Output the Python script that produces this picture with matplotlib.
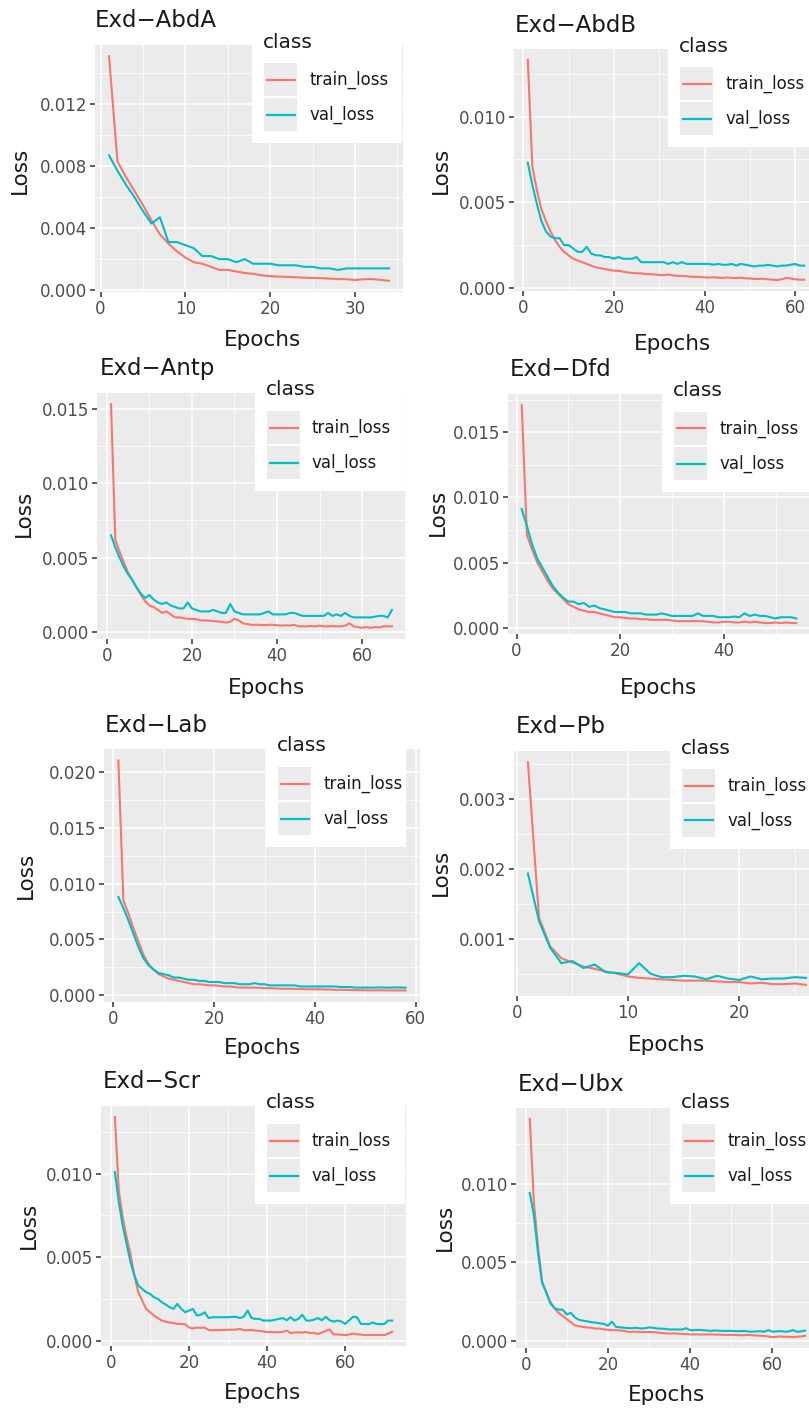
import numpy as np
import matplotlib
matplotlib.use("Agg")
import matplotlib.pyplot as plt
from matplotlib.patches import Rectangle
from matplotlib.lines import Line2D
from matplotlib.ticker import MultipleLocator, FormatStrFormatter

plt.rcParams["font.family"] = ["DejaVu Sans"]

# ------------------------------------------------------------
# Data (per-epoch losses)
# ------------------------------------------------------------
abda_train = [0.0151, 0.0083, 0.0073, 0.0064, 0.0055, 0.0045, 0.0036, 0.0030, 0.0025, 0.0021,
              0.0018, 0.0017, 0.0015, 0.0013, 0.0013, 0.0012, 0.0011, 0.00105, 0.00095, 0.0009,
              0.00087, 0.00085, 0.00083, 0.0008, 0.00078, 0.00077, 0.00074, 0.00071, 0.0007, 0.00065,
              0.0007, 0.00071, 0.00066, 0.0006]
abda_val = [0.0087, 0.0077, 0.0068, 0.0060, 0.0051, 0.0043, 0.0047, 0.0031, 0.0031, 0.0029,
            0.0027, 0.0022, 0.0022, 0.0020, 0.0020, 0.0018, 0.0020, 0.0017, 0.0017, 0.0017,
            0.0016, 0.0016, 0.0016, 0.0015, 0.0015, 0.0014, 0.0014, 0.0013, 0.0014, 0.0014,
            0.0014, 0.0014, 0.0014, 0.0014]

abdb_train = [0.0133, 0.0071, 0.0057, 0.0046, 0.0039, 0.0033, 0.0028, 0.0024, 0.0021, 0.0019,
              0.0017, 0.0016, 0.0015, 0.0014, 0.0013, 0.0012, 0.00115, 0.0011, 0.00105, 0.0010,
              0.0010, 0.00095, 0.0009, 0.00088, 0.00085, 0.00085, 0.0008, 0.0008, 0.00078, 0.00075,
              0.00075, 0.00078, 0.00073, 0.0007, 0.0007, 0.00068, 0.00065, 0.00065, 0.00063, 0.00062,
              0.0006, 0.00062, 0.0006, 0.00058, 0.00061, 0.00058, 0.00057, 0.0006, 0.00056, 0.00055,
              0.00052, 0.00052, 0.00053, 0.0005, 0.00048, 0.00046, 0.0005, 0.00058, 0.00055, 0.0005,
              0.00048, 0.00048]
abdb_val = [0.0073, 0.0060, 0.0049, 0.0039, 0.0033, 0.0030, 0.0029, 0.0029, 0.0025, 0.0025,
            0.0023, 0.0021, 0.0021, 0.0024, 0.0020, 0.0019, 0.0019, 0.0018, 0.0018, 0.0017,
            0.0018, 0.0017, 0.0017, 0.0017, 0.0018, 0.0015, 0.0015, 0.0015, 0.0015, 0.0015,
            0.0015, 0.0014, 0.0015, 0.0014, 0.0015, 0.0014, 0.0014, 0.0014, 0.0014, 0.0014,
            0.0014, 0.00135, 0.0014, 0.00135, 0.00135, 0.0014, 0.0013, 0.0014, 0.00135, 0.0013,
            0.00125, 0.0013, 0.0013, 0.00135, 0.0013, 0.00125, 0.0013, 0.0013, 0.00135, 0.0014,
            0.0013, 0.0013]

antp_train = [0.0153, 0.0062, 0.0054, 0.0047, 0.0040, 0.0035, 0.0030, 0.0025, 0.0021, 0.0018,
              0.0017, 0.0015, 0.0013, 0.0014, 0.0012, 0.0010, 0.0010, 0.00095, 0.0009, 0.0009,
              0.00088, 0.0008, 0.0008, 0.00078, 0.00075, 0.00072, 0.0007, 0.00065, 0.0007, 0.0009,
              0.0008, 0.0006, 0.00055, 0.0005, 0.0005, 0.0005, 0.00048, 0.0005, 0.0005, 0.00047,
              0.00045, 0.00047, 0.00045, 0.0005, 0.0004, 0.0004, 0.0004, 0.00042, 0.0004, 0.00045,
              0.0004, 0.0004, 0.00042, 0.0004, 0.0004, 0.00045, 0.0006, 0.0004, 0.00035, 0.0003,
              0.00035, 0.0003, 0.00035, 0.00033, 0.0004, 0.0004, 0.0004]
antp_val = [0.0065, 0.0057, 0.0050, 0.0044, 0.0039, 0.0035, 0.0030, 0.0026, 0.0023, 0.0025,
            0.0022, 0.0020, 0.0019, 0.0020, 0.0018, 0.0017, 0.0016, 0.0016, 0.0020, 0.0016,
            0.0015, 0.0014, 0.0014, 0.0014, 0.0015, 0.0014, 0.0013, 0.0013, 0.0019, 0.0014,
            0.0013, 0.0012, 0.0012, 0.0012, 0.0012, 0.0012, 0.0013, 0.0014, 0.0012, 0.0012,
            0.0012, 0.0012, 0.0013, 0.0013, 0.0012, 0.0011, 0.0011, 0.0011, 0.0011, 0.0011,
            0.0011, 0.0013, 0.0011, 0.0012, 0.0011, 0.0013, 0.0011, 0.0010, 0.0010, 0.0010,
            0.0010, 0.0010, 0.00105, 0.0011, 0.0011, 0.0010, 0.0015]

dfd_train = [0.0171, 0.0071, 0.0060, 0.0050, 0.0043, 0.0036, 0.0030, 0.0026, 0.0022, 0.0018,
             0.0016, 0.0014, 0.0013, 0.0012, 0.0012, 0.0011, 0.0010, 0.0009, 0.0008, 0.0008,
             0.00075, 0.0007, 0.0007, 0.00065, 0.00065, 0.0006, 0.0006, 0.0006, 0.0006, 0.00055,
             0.0005, 0.0005, 0.0005, 0.0005, 0.0005, 0.0005, 0.00045, 0.0004, 0.0004, 0.00045,
             0.00045, 0.0004, 0.0004, 0.00045, 0.0004, 0.00045, 0.0004, 0.00035, 0.00035, 0.0004,
             0.00035, 0.0004, 0.00035, 0.00035]
dfd_val = [0.0091, 0.0078, 0.0064, 0.0053, 0.0046, 0.0039, 0.0032, 0.0027, 0.0023, 0.0020,
           0.0020, 0.0018, 0.0019, 0.0016, 0.0017, 0.0015, 0.0014, 0.0013, 0.0012, 0.0012,
           0.0012, 0.0011, 0.0011, 0.0011, 0.0010, 0.0010, 0.0010, 0.0011, 0.0010, 0.0009,
           0.0009, 0.0009, 0.0009, 0.0009, 0.0011, 0.0009, 0.0009, 0.0009, 0.0008, 0.0008,
           0.0008, 0.00085, 0.0008, 0.0011, 0.0009, 0.0010, 0.0009, 0.0009, 0.0008, 0.0007,
           0.0008, 0.0008, 0.0008, 0.0007]

lab_train = [0.0210, 0.0085, 0.0073, 0.0060, 0.0048, 0.0036, 0.0028, 0.0023, 0.0019, 0.0017,
             0.0015, 0.0014, 0.0013, 0.0012, 0.0011, 0.0010, 0.0010, 0.00095, 0.0009, 0.0009,
             0.00085, 0.0008, 0.0008, 0.00075, 0.0007, 0.0007, 0.0007, 0.0007, 0.00068, 0.00065,
             0.00065, 0.00063, 0.0006, 0.0006, 0.0006, 0.00058, 0.00058, 0.00056, 0.00055, 0.00055,
             0.00055, 0.00053, 0.00052, 0.0005, 0.0005, 0.0005, 0.00048, 0.00048, 0.00047, 0.00046,
             0.00045, 0.00045, 0.00046, 0.00045, 0.00044, 0.00045, 0.00044, 0.00044]
lab_val = [0.0088, 0.0078, 0.0067, 0.0055, 0.0043, 0.0033, 0.0027, 0.0023, 0.0020, 0.0019,
           0.0018, 0.0016, 0.0016, 0.0015, 0.0014, 0.0014, 0.0013, 0.0013, 0.0012, 0.0012,
           0.0012, 0.0011, 0.0011, 0.0011, 0.0010, 0.0010, 0.0010, 0.0011, 0.0010, 0.0010,
           0.0009, 0.0009, 0.0009, 0.0009, 0.0009, 0.0009, 0.0008, 0.0008, 0.0008, 0.0008,
           0.0008, 0.0008, 0.0008, 0.0008, 0.00075, 0.00075, 0.00075, 0.0007, 0.0007, 0.0007,
           0.0007, 0.0007, 0.00072, 0.0007, 0.0007, 0.00072, 0.0007, 0.0007]

pb_train = [0.00352, 0.00130, 0.00089, 0.00072, 0.00066, 0.00060, 0.00057, 0.00053, 0.00050, 0.00046,
            0.00044, 0.00043, 0.00042, 0.00041, 0.00040, 0.00040, 0.00040, 0.00039, 0.00038, 0.00038,
            0.00036, 0.00037, 0.00035, 0.00035, 0.00036, 0.00034]
pb_val = [0.00193, 0.00125, 0.00087, 0.00065, 0.00068, 0.00058, 0.00063, 0.00052, 0.00051, 0.00049,
          0.00065, 0.00050, 0.00045, 0.00045, 0.00047, 0.00046, 0.00042, 0.00047, 0.00043, 0.00041,
          0.00046, 0.00042, 0.00043, 0.00043, 0.00045, 0.00044]

scr_train = [0.0134, 0.0090, 0.0074, 0.0062, 0.0052, 0.0039, 0.0029, 0.0024, 0.0019, 0.0017,
             0.0015, 0.00135, 0.0012, 0.00114, 0.00108, 0.00105, 0.0010, 0.0010, 0.00098, 0.00078,
             0.00073, 0.00078, 0.00076, 0.00078, 0.00063, 0.00062, 0.00063, 0.00063, 0.00064, 0.00065,
             0.00065, 0.00066, 0.0007, 0.00062, 0.00062, 0.00064, 0.0006, 0.00058, 0.00055, 0.00051,
             0.00052, 0.0005, 0.0005, 0.00052, 0.0006, 0.00046, 0.00048, 0.0005, 0.00048, 0.00051,
             0.00046, 0.00045, 0.0004, 0.00048, 0.00058, 0.00067, 0.00037, 0.00037, 0.00035, 0.00033,
             0.00036, 0.00042, 0.00038, 0.00036, 0.00033, 0.00033, 0.00034, 0.00033, 0.00034, 0.00033,
             0.00042, 0.00053]
scr_val = [0.0101, 0.0083, 0.0069, 0.0058, 0.0047, 0.0039, 0.0033, 0.0031, 0.0029, 0.0028,
           0.0026, 0.0025, 0.0023, 0.00216, 0.0020, 0.0019, 0.0022, 0.0019, 0.0017, 0.0018,
           0.0019, 0.0015, 0.00155, 0.0017, 0.00135, 0.0014, 0.0014, 0.0014, 0.0014, 0.0014,
           0.00142, 0.00143, 0.00135, 0.00143, 0.0018, 0.00135, 0.0013, 0.0013, 0.0012, 0.0012,
           0.0012, 0.00125, 0.0013, 0.00135, 0.00122, 0.0014, 0.0012, 0.0013, 0.00155, 0.0012,
           0.0012, 0.00125, 0.00135, 0.00122, 0.00143, 0.00122, 0.00114, 0.0012, 0.00114, 0.0010,
           0.00122, 0.00143, 0.0014, 0.0010, 0.0010, 0.00098, 0.00108, 0.0010, 0.00098, 0.0010,
           0.0012, 0.0012]

ubx_train = [0.0141, 0.0088, 0.0060, 0.0038, 0.0031, 0.0025, 0.0021, 0.0018, 0.0016, 0.0014,
             0.0012, 0.0010, 0.00095, 0.0009, 0.00087, 0.00085, 0.0008, 0.0008, 0.00075, 0.00072,
             0.0007, 0.0007, 0.00068, 0.00065, 0.00059, 0.0006, 0.0006, 0.00058, 0.00058, 0.00059,
             0.00058, 0.00055, 0.00052, 0.0005, 0.00048, 0.0005, 0.00048, 0.00046, 0.00045, 0.00043,
             0.00043, 0.00043, 0.00042, 0.00043, 0.00043, 0.00042, 0.00042, 0.0004, 0.0004, 0.0004,
             0.0004, 0.00038, 0.00038, 0.0004, 0.00038, 0.00036, 0.00035, 0.00033, 0.0003, 0.00026,
             0.00028, 0.0003, 0.00028, 0.00028, 0.00026, 0.00028, 0.0003, 0.00035]
ubx_val = [0.0094, 0.0080, 0.0056, 0.0037, 0.0031, 0.0024, 0.0021, 0.0020, 0.0020, 0.0017,
           0.0018, 0.0015, 0.00135, 0.0013, 0.00126, 0.0012, 0.00118, 0.00113, 0.0011, 0.00098,
           0.00124, 0.0009, 0.00088, 0.00085, 0.00083, 0.00083, 0.00085, 0.0008, 0.00082, 0.00087,
           0.00085, 0.0008, 0.0008, 0.00078, 0.00074, 0.00075, 0.00074, 0.00074, 0.00082, 0.0007,
           0.0007, 0.00072, 0.0007, 0.00068, 0.00065, 0.00068, 0.00066, 0.00065, 0.00065, 0.00065,
           0.00064, 0.00063, 0.00065, 0.00062, 0.0006, 0.00062, 0.00063, 0.0006, 0.0007, 0.0006,
           0.00062, 0.00064, 0.0006, 0.00062, 0.0007, 0.0006, 0.00062, 0.00067]

titles = ["Exd\u2212AbdA", "Exd\u2212AbdB", "Exd\u2212Antp", "Exd\u2212Dfd",
          "Exd\u2212Lab", "Exd\u2212Pb", "Exd\u2212Scr", "Exd\u2212Ubx"]
train_series = [abda_train, abdb_train, antp_train, dfd_train, lab_train, pb_train, scr_train, ubx_train]
val_series = [abda_val, abdb_val, antp_val, dfd_val, lab_val, pb_val, scr_val, ubx_val]
y_steps = [0.004, 0.005, 0.005, 0.005, 0.005, 0.001, 0.005, 0.005]
x_steps = [10, 20, 20, 20, 20, 10, 20, 20]

# ------------------------------------------------------------
# Layout (pixels in the 809 x 1412 canvas)
# ------------------------------------------------------------
W, H = 809, 1412
TRAIN_COLOR = "#F8766D"
VAL_COLOR = "#00BFC4"

# panel box: left, top, right, bottom
boxes = [(95, 45, 403, 292), (514, 49, 818, 291),
         (97, 393, 406, 639), (508, 394, 810, 634),
         (104, 749, 420, 1002), (514, 751, 820, 996),
         (101, 1106, 406, 1346), (516, 1108, 819, 1348)]
title_pos = [(95, 27), (515, 32), (100, 375), (510, 376),
             (105, 732), (516, 733), (103, 1088), (518, 1091)]
ylabel_pos = [(20, 170), (441, 170), (24, 513), (438, 512),
              (26, 875), (441, 872), (29, 1225), (445, 1227)]
xlabel_pos = [(262, 340), (672, 344), (266, 688), (659, 688),
              (263, 1048), (666, 1045), (263, 1393), (666, 1395)]
# legend: box left, "class" centre y, box right
legend_pos = [(252, 42, 402), (668, 46, 809), (255, 390, 405), (662, 391, 809),
              (266, 746, 406), (670, 748, 809), (255, 1103, 405), (670, 1103, 809)]


def fx(px):
    return px / W


def fy(py):
    return 1 - py / H


def draw_legend(fig, left, ty, right):
    box = Rectangle((fx(left), fy(ty + 101)), (right - left) / W, 117 / H,
                    transform=fig.transFigure, facecolor="white",
                    edgecolor="none", zorder=5)
    fig.patches.append(box)
    fig.text(fx(left + 11), fy(ty), "class", fontsize=14.5, va="center",
             ha="left", color="#1A1A1A", zorder=6)
    for i, (label, color) in enumerate([("train_loss", TRAIN_COLOR),
                                        ("val_loss", VAL_COLOR)]):
        top = ty + 21 + i * 35
        key = Rectangle((fx(left + 12), fy(top + 33)), 33 / W, 33 / H,
                        transform=fig.transFigure, facecolor="#EBEBEB",
                        edgecolor="none", zorder=6)
        fig.patches.append(key)
        yc = fy(top + 16.5)
        fig.lines.append(Line2D([fx(left + 15), fx(left + 43)], [yc, yc],
                                transform=fig.transFigure, color=color,
                                lw=1.6, zorder=7))
        fig.text(fx(left + 57), yc, label, fontsize=12, va="center",
                 ha="left", color="#1A1A1A", zorder=7)


def draw_panel(fig, i):
    l, t, r, b = boxes[i]
    ax = fig.add_axes([fx(l), fy(b), (r - l) / W, (b - t) / H])
    train = np.array(train_series[i])
    val = np.array(val_series[i])
    epochs = np.arange(1, len(train) + 1)

    ax.plot(epochs, train, color=TRAIN_COLOR, lw=1.5)
    ax.plot(epochs, val, color=VAL_COLOR, lw=1.5)

    # ggplot-style 5% expansion
    n = len(train)
    xpad = 0.05 * (n - 1)
    ax.set_xlim(1 - xpad, n + xpad)
    lo = min(train.min(), val.min())
    hi = max(train.max(), val.max())
    ypad = 0.05 * (hi - lo)
    ax.set_ylim(lo - ypad, hi + ypad)

    ax.set_facecolor("#EBEBEB")
    for s in ax.spines.values():
        s.set_visible(False)
    ax.xaxis.set_major_locator(MultipleLocator(x_steps[i]))
    ax.xaxis.set_minor_locator(MultipleLocator(x_steps[i] / 2))
    ax.yaxis.set_major_locator(MultipleLocator(y_steps[i]))
    ax.yaxis.set_minor_locator(MultipleLocator(y_steps[i] / 2))
    ax.yaxis.set_major_formatter(FormatStrFormatter("%.3f"))
    ax.grid(which="major", color="white", lw=1.1)
    ax.grid(which="minor", color="white", lw=0.55)
    ax.set_axisbelow(True)
    ax.tick_params(which="major", length=3.5, width=1.1, color="#333333",
                   labelcolor="#4D4D4D", labelsize=12, pad=2)
    ax.tick_params(which="minor", length=0)

    tx, ty = title_pos[i]
    fig.text(fx(tx), fy(ty), titles[i], fontsize=16.5, ha="left",
             va="baseline", color="#1A1A1A")
    lx, ly = ylabel_pos[i]
    fig.text(fx(lx), fy(ly), "Loss", fontsize=15.5, rotation=90,
             ha="center", va="center", color="#1A1A1A")
    ex, ey = xlabel_pos[i]
    fig.text(fx(ex), fy(ey), "Epochs", fontsize=15.5, ha="center",
             va="center", color="#1A1A1A")
    draw_legend(fig, *legend_pos[i])


def main():
    fig = plt.figure(figsize=(W / 100, H / 100), dpi=100)
    for i in range(len(titles)):
        draw_panel(fig, i)
    fig.savefig("out.png", dpi=100)
    plt.close(fig)


if __name__ == "__main__":
    main()
